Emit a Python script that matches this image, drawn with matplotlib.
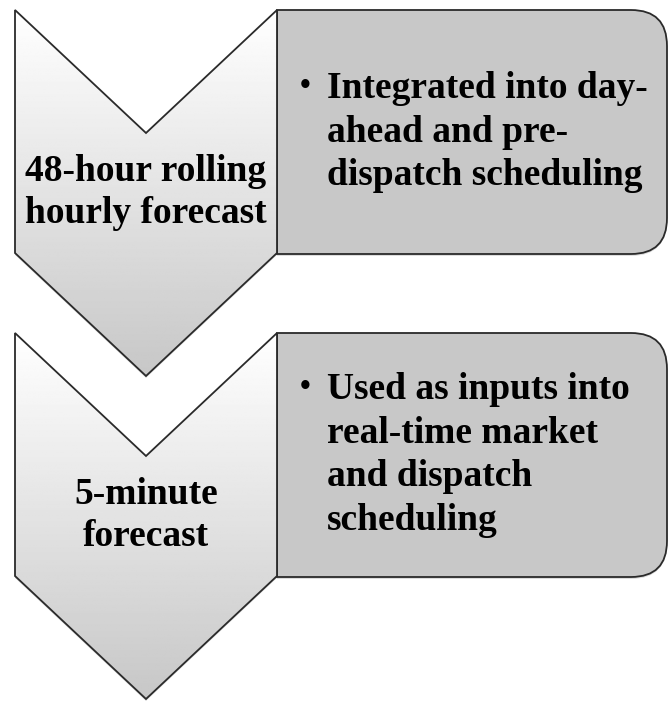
import numpy as np
import matplotlib.pyplot as plt
from matplotlib.path import Path
from matplotlib.patches import PathPatch

# diagram content
stage_labels = [["48-hour rolling", "hourly forecast"], ["5-minute", "forecast"]]
stage_notes = [
    ["Integrated into day-", "ahead and pre-", "dispatch scheduling"],
    ["Used as inputs into", "real-time market", "and dispatch", "scheduling"],
]
stage_tops = [10, 333]

W, H = 668, 702
CHEV_L, CHEV_R = 15, 277
BOX_R = 667
BODY_H = 243
NOTCH = 123
RADIUS = 36
FONT = "Liberation Serif"
FS = 27
LINE_H = 43.5


def chevron_path(top):
    xm = (CHEV_L + CHEV_R) / 2
    bot = top + BODY_H
    verts = [(CHEV_L, top), (xm, top + NOTCH), (CHEV_R, top), (CHEV_R, bot),
             (xm, bot + NOTCH), (CHEV_L, bot), (CHEV_L, top)]
    codes = [Path.MOVETO] + [Path.LINETO] * 5 + [Path.CLOSEPOLY]
    return Path(verts, codes)


def box_path(top):
    bot = top + BODY_H + 1
    r = RADIUS
    verts = [(CHEV_R, top), (BOX_R - r, top), (BOX_R, top), (BOX_R, top + r),
             (BOX_R, bot - r), (BOX_R, bot), (BOX_R - r, bot),
             (CHEV_R, bot), (CHEV_R, top)]
    codes = [Path.MOVETO, Path.LINETO, Path.CURVE3, Path.CURVE3, Path.LINETO,
             Path.CURVE3, Path.CURVE3, Path.LINETO, Path.CLOSEPOLY]
    return Path(verts, codes)


fig = plt.figure(figsize=(W / 100, H / 100), dpi=100)
ax = fig.add_axes([0, 0, 1, 1])
ax.set_xlim(0, W)
ax.set_ylim(H, 0)
ax.axis("off")

grad = np.linspace(1.0, 0.78, 256).reshape(-1, 1)

for i, top in enumerate(stage_tops):
    # box behind the chevron
    shadow = PathPatch(box_path(top + 2), facecolor="#00000022", edgecolor="none", zorder=1)
    ax.add_patch(shadow)
    box = PathPatch(box_path(top), facecolor="#c8c8c8", edgecolor="#2a2a2a", lw=1.3, zorder=2)
    ax.add_patch(box)

    # chevron with vertical gradient fill
    cp = chevron_path(top)
    sh = PathPatch(chevron_path(top + 2), facecolor="#00000022", edgecolor="none", zorder=3)
    ax.add_patch(sh)
    ch = PathPatch(cp, facecolor="none", edgecolor="#2a2a2a", lw=1.3, zorder=5)
    ax.add_patch(ch)
    im = ax.imshow(grad, cmap="gray", vmin=0, vmax=1, aspect="auto",
                   extent=(CHEV_L, CHEV_R, top + BODY_H + NOTCH, top), zorder=4)
    clip = PathPatch(cp, transform=ax.transData, facecolor="none", edgecolor="none")
    im.set_clip_path(clip)

    # chevron label
    xm = (CHEV_L + CHEV_R) / 2
    for j, line in enumerate(stage_labels[i]):
        ax.text(xm, top + 171 + j * 42, line, ha="center", va="baseline", fontsize=FS,
                fontfamily=FONT, fontweight="bold", zorder=6)

    # bullet text, centred vertically in the box
    lines = stage_notes[i]
    y0 = top + 131.5 - (len(lines) - 1) / 2 * LINE_H
    ax.text(305, y0 - 4, "\u2022", ha="center", va="baseline", fontsize=22,
            fontfamily=FONT, fontweight="bold", zorder=6)
    for j, line in enumerate(lines):
        ax.text(327, y0 + j * LINE_H, line, ha="left", va="baseline", fontsize=FS,
                fontfamily=FONT, fontweight="bold", zorder=6)

fig.savefig("out.png", dpi=100, facecolor="white")
